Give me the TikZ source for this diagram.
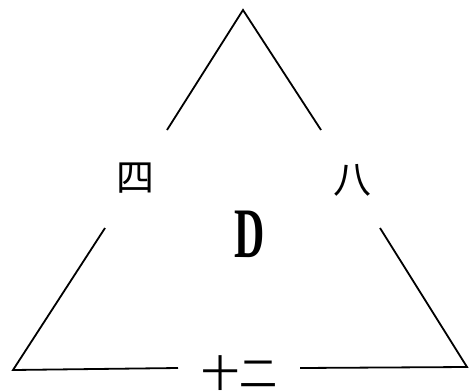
\documentclass[tikz,border=0pt]{standalone}
\usepackage{fontspec}
\newfontfamily\cjk{Noto Sans CJK SC}
\newfontfamily\dfont{Liberation Serif}

\begin{document}
\begin{tikzpicture}[
    x=1pt, y=-1pt,
    side/.style={line width=1.8pt},
    lab/.style={font=\cjk\fontsize{38}{38}\selectfont, inner sep=0pt},
    big/.style={font=\dfont\bfseries\fontsize{71}{71}\selectfont, xscale=0.59, inner sep=0pt}
]
\useasboundingbox (0,0) rectangle (473,391);
\coordinate (top) at (243,10);
\coordinate (bl) at (13,370);
\coordinate (br) at (467,367);
\coordinate (l1) at (167,130);
\coordinate (l2) at (105,228);
\coordinate (r1) at (321,130);
\coordinate (r2) at (380,228);
\coordinate (b1) at (178,368);
\coordinate (b2) at (300,368);
\node[lab] (four) at (135,178) {四};
\node[lab] (eight) at (352,180) {八};
\node[lab] (twelve) at (239,373) {十二};
\node[big] (d) at (250,234) {D};
\draw[side] (l1) -- (top) -- (r1);
\draw[side] (l2) -- (bl) -- (b1);
\draw[side] (r2) -- (br) -- (b2);
\end{tikzpicture}
\end{document}
